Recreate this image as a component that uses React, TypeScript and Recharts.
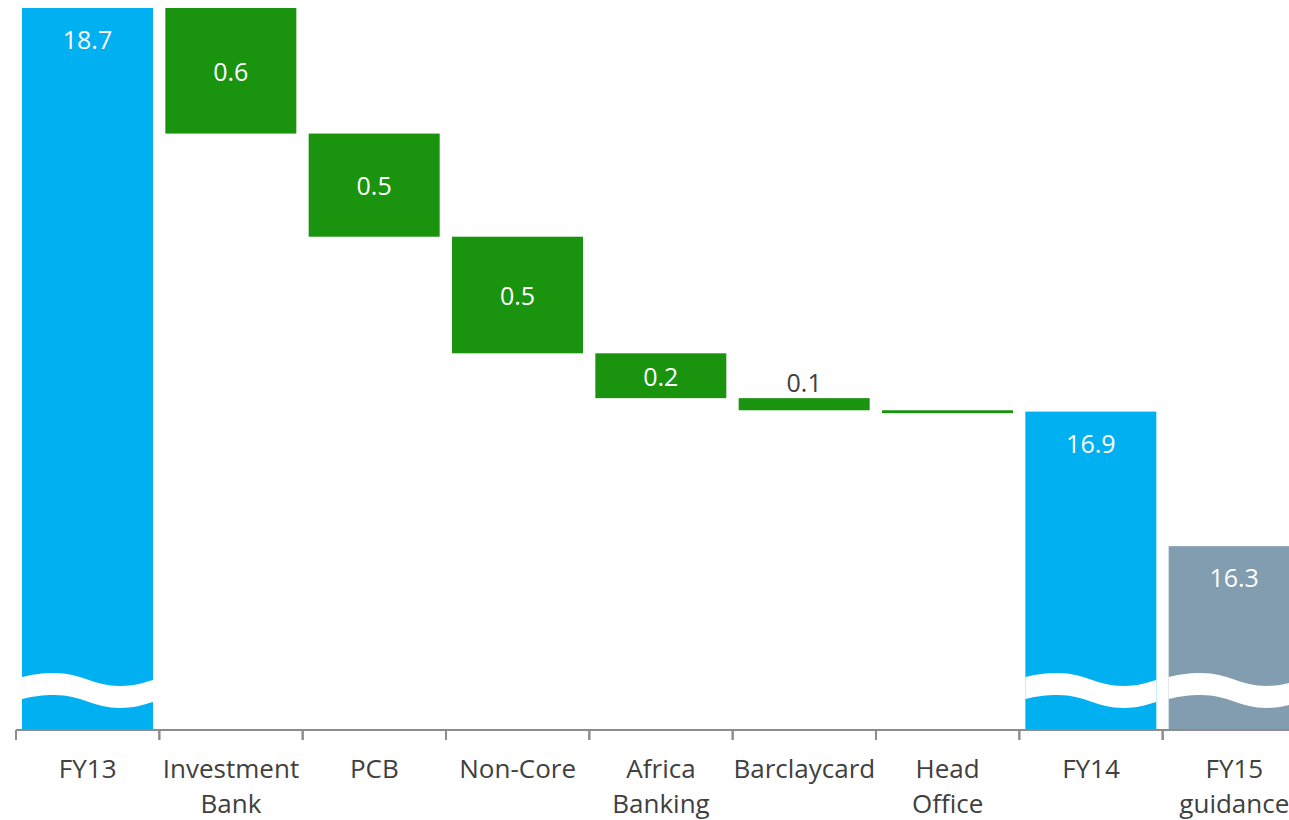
import React from 'react';
import { BarChart, Bar, XAxis, YAxis, Cell, LabelList } from 'recharts';

// Cost base bridge, £bn
const categories = [
  'FY13',
  'Investment\nBank',
  'PCB',
  'Non-Core',
  'Africa\nBanking',
  'Barclaycard',
  'Head\nOffice',
  'FY14',
  'FY15\nguidance',
];
const openingTotal = 18.7;
const reductions = [0.56, 0.46, 0.52, 0.2, 0.054, 0.013];
const closingTotal = 16.9;
const guidanceTotal = 16.3;
// the axis is broken, bars start from this floor
const axisFloor = 15.48;

const BLUE = '#00b0f0';
const GREEN = '#1a930f';
const GREY = '#839db0';
const TEXT = '#404040';
const FONT = '"Open Sans", sans-serif';

type Row = { name: string; range: [number, number]; kind: 'total' | 'drop' | 'guidance'; value: number };

const rows: Row[] = [];
rows.push({ name: categories[0], range: [axisFloor, openingTotal], kind: 'total', value: openingTotal });
let running = openingTotal;
reductions.forEach((r, i) => {
  rows.push({ name: categories[i + 1], range: [running - r, running], kind: 'drop', value: r });
  running -= r;
});
rows.push({ name: categories[7], range: [axisFloor, closingTotal], kind: 'total', value: closingTotal });
rows.push({ name: categories[8], range: [axisFloor, guidanceTotal], kind: 'guidance', value: guidanceTotal });

const fillFor = (kind: Row['kind']) => (kind === 'drop' ? GREEN : kind === 'guidance' ? GREY : BLUE);

// Total bars get a white wavy band near the bottom to mark the axis break
function BrokenBar(props: any) {
  const { x, y, width, height, fill, payload } = props;
  if (!height || height <= 0) return null;
  const rect = <rect x={x} y={y} width={width} height={height} fill={fill} />;
  if (payload.kind === 'drop') return rect;
  const w = width;
  const y0 = y + height - 57;
  const t = 22;
  const d = [
    `M${x},${y0 + 4}`,
    `C${x + 0.1 * w},${y0 + 1} ${x + 0.15 * w},${y0} ${x + 0.25 * w},${y0}`,
    `C${x + 0.45 * w},${y0} ${x + 0.55 * w},${y0 + 13} ${x + 0.75 * w},${y0 + 13}`,
    `C${x + 0.85 * w},${y0 + 13} ${x + 0.92 * w},${y0 + 10} ${x + w},${y0 + 7}`,
    `L${x + w},${y0 + 7 + t}`,
    `C${x + 0.92 * w},${y0 + 10 + t} ${x + 0.85 * w},${y0 + 13 + t} ${x + 0.75 * w},${y0 + 13 + t}`,
    `C${x + 0.55 * w},${y0 + 13 + t} ${x + 0.45 * w},${y0 + t} ${x + 0.25 * w},${y0 + t}`,
    `C${x + 0.15 * w},${y0 + t} ${x + 0.1 * w},${y0 + 1 + t} ${x},${y0 + 4 + t}`,
    'Z',
  ].join(' ');
  return (
    <g>
      {rect}
      <path d={d} fill="#ffffff" />
    </g>
  );
}

function ValueLabel(props: any) {
  const { x, y, width, height, index } = props;
  const row = rows[index];
  if (!row) return null;
  const cx = x + width / 2;
  const text = row.value.toFixed(1);
  if (row.kind !== 'drop') {
    return (
      <text x={cx} y={y + 31} textAnchor="middle" dominantBaseline="central" fill="#ffffff" fontSize={25} fontFamily={FONT}>
        {text}
      </text>
    );
  }
  if (row.value < 0.05) return null;
  if (height >= 30) {
    return (
      <text x={cx} y={y + height / 2} textAnchor="middle" dominantBaseline="central" fill="#ffffff" fontSize={25} fontFamily={FONT}>
        {text}
      </text>
    );
  }
  return (
    <text x={cx} y={y - 16} textAnchor="middle" dominantBaseline="central" fill={TEXT} fontSize={25} fontFamily={FONT}>
      {text}
    </text>
  );
}

// Category label with the tick mark drawn on the left boundary of each slot
function CategoryTick(props: any) {
  const { x, y, payload } = props;
  const half = payload.offset ?? 143.3 / 2;
  const lines = String(payload.value).split('\n');
  return (
    <g>
      <line x1={x - half} x2={x - half} y1={y - 10} y2={y} stroke="#8c8c8c" strokeWidth={2} />
      <line x1={x + half} x2={x + half} y1={y - 10} y2={y} stroke="#8c8c8c" strokeWidth={2} />
      <text textAnchor="middle" fill={TEXT} fontSize={26} fontFamily={FONT}>
        {lines.map((ln, i) => (
          <tspan key={i} x={x} y={y + 38 + i * 35}>
            {ln}
          </tspan>
        ))}
      </text>
    </g>
  );
}

export default function App() {
  return (
    <div style={{ position: 'absolute', left: 0, top: 0, width: 1289, height: 820, overflow: 'hidden', background: '#fff' }}>
      <BarChart width={1306} height={820} data={rows} margin={{ top: 8, right: 0, bottom: 0, left: 16 }}>
        <XAxis
          dataKey="name"
          interval={0}
          height={90}
          tickLine={false}
          tickSize={10}
          tickMargin={0}
          axisLine={{ stroke: '#8c8c8c', strokeWidth: 2 }}
          tick={<CategoryTick />}
        />
        <YAxis hide domain={[axisFloor, openingTotal]} allowDataOverflow />
        <Bar dataKey="range" barSize={131} shape={<BrokenBar />} isAnimationActive={false}>
          {rows.map((r, i) => (
            <Cell key={i} fill={fillFor(r.kind)} />
          ))}
          <LabelList dataKey="range" content={<ValueLabel />} />
        </Bar>
      </BarChart>
    </div>
  );
}
